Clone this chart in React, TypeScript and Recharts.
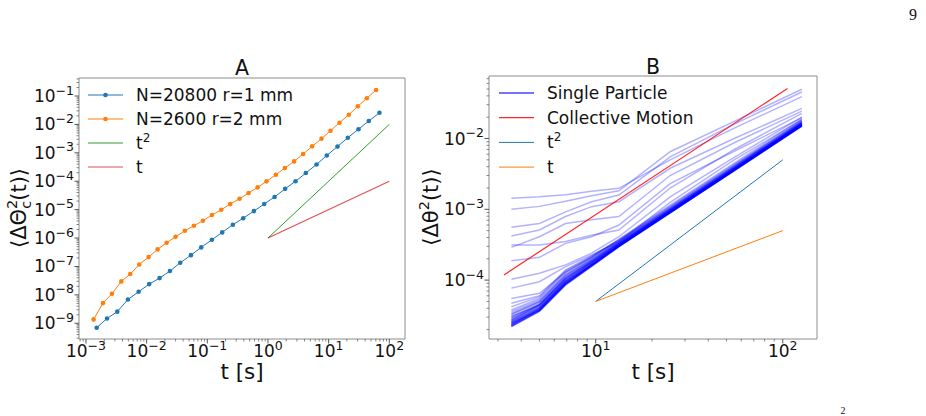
import { LineChart, Line, XAxis, YAxis, Legend, ReferenceArea } from "recharts";

const FONT = "'DejaVu Sans', 'Noto Sans', sans-serif";

// ---- panel A: collective rotation of the whole pack ----
const timeSmallGrains = [
  0.0015, 0.00222, 0.00328, 0.00492, 0.00738, 0.01104, 0.01637, 0.0242, 0.0358, 0.0537, 0.0794, 0.119,
  0.176, 0.264, 0.391, 0.586, 0.867, 1.285, 1.92, 2.85, 4.21, 6.32, 9.33, 14.0, 20.7, 31.1, 45.9, 68.9,
];
const msdSmallGrains = [
  6.97e-10, 1.48e-9, 2.57e-9, 6.9e-9, 1.29e-8, 2.4e-8, 3.9e-8, 6.9e-8, 1.35e-7, 2.5e-7, 4.7e-7, 8.7e-7,
  1.58e-6, 2.95e-6, 5.0e-6, 8.9e-6, 1.58e-5, 2.8e-5, 5.4e-5, 1.0e-4, 1.95e-4, 3.9e-4, 8.1e-4, 1.66e-3,
  3.4e-3, 6.8e-3, 1.32e-2, 2.57e-2,
];
const timeLargeGrains = [
  0.001337, 0.001905, 0.00268, 0.00382, 0.00537, 0.00756, 0.01077, 0.01517, 0.02134, 0.03, 0.0427, 0.0601,
  0.0847, 0.119, 0.17, 0.239, 0.34, 0.479, 0.674, 0.947, 1.349, 1.897, 2.7, 3.8, 5.35, 7.63, 10.74, 15.1,
  21.5, 30.3, 42.6, 60.7,
];
const msdLargeGrains = [
  1.37e-9, 5.14e-9, 1.1e-8, 2.98e-8, 5.4e-8, 1.18e-7, 2.14e-7, 3.99e-7, 6.85e-7, 1.11e-6, 1.81e-6, 2.72e-6,
  4.07e-6, 6.45e-6, 9.95e-6, 1.57e-5, 2.43e-5, 3.85e-5, 6.08e-5, 9.9e-5, 1.7e-4, 2.92e-4, 5.0e-4, 9.1e-4,
  1.69e-3, 3.15e-3, 6.0e-3, 1.15e-2, 2.2e-2, 4.33e-2, 8.3e-2, 0.163,
];
const guideTimeA = [1, 100];
const guideSquareA = [1e-6, 1e-2];
const guideLinearA = [1e-6, 1e-4];

// ---- panel B: single particles vs. the collective ----
const trackTime = [3.54, 5, 6.9, 9.5, 13.3, 25, 55, 126.5];
// particles that wander off on their own
const scatteredTracks = [
  [1.43e-3, 1.5e-3, 1.6e-3, 1.8e-3, 1.98e-3, 5.0e-3, 1.4e-2, 3.9e-2],
  [1.0e-3, 1.1e-3, 1.3e-3, 1.55e-3, 1.83e-3, 6.5e-3, 1.75e-2, 4.96e-2],
  [5.6e-4, 6.3e-4, 9.2e-4, 1.28e-3, 1.59e-3, 5.5e-3, 1.6e-2, 4.54e-2],
  [4.2e-4, 5.1e-4, 7.9e-4, 1.09e-3, 1.28e-3, 3.8e-3, 1.0e-2, 2.67e-2],
  [3.13e-4, 3.13e-4, 3.5e-4, 4.3e-4, 5.1e-4, 2.0e-3, 7.0e-3, 2.27e-2],
  [2.9e-4, 4.1e-4, 6.3e-4, 7.1e-4, 7.9e-4, 3.0e-3, 8.7e-3, 2.44e-2],
  [1.88e-4, 2.1e-4, 3.3e-4, 4.1e-4, 6.0e-4, 2.3e-3, 6.6e-3, 1.97e-2],
  [1.03e-4, 1.25e-4, 1.64e-4, 2.4e-4, 4.1e-4, 1.5e-3, 5.4e-3, 2.0e-2],
  [7.7e-5, 9.5e-5, 1.55e-4, 2.26e-4, 3.5e-4, 1.25e-3, 5.0e-3, 1.85e-2],
  [5.5e-5, 6.5e-5, 1.3e-4, 2.1e-4, 3.8e-4, 1.15e-3, 4.5e-3, 1.9e-2],
  [4.7e-5, 6.0e-5, 1.4e-4, 2.2e-4, 3.7e-4, 1.1e-3, 4.3e-3, 1.8e-2],
  [4.2e-5, 5.8e-5, 1.35e-4, 2.15e-4, 3.65e-4, 1.08e-3, 4.2e-3, 1.78e-2],
];
// particles that move with the pack
const bundleTracks = [
  [2.2e-5, 3.6e-5, 8.5e-5, 1.56e-4, 2.96e-4, 8.9e-4, 3.5e-3, 1.5e-2],
  [2.2e-5, 3.65e-5, 8.6e-5, 1.57e-4, 2.97e-4, 8.9e-4, 3.51e-3, 1.5e-2],
  [2.24e-5, 3.7e-5, 8.8e-5, 1.59e-4, 2.99e-4, 8.97e-4, 3.54e-3, 1.51e-2],
  [2.26e-5, 3.68e-5, 8.7e-5, 1.58e-4, 2.98e-4, 8.95e-4, 3.53e-3, 1.51e-2],
  [2.32e-5, 3.75e-5, 8.85e-5, 1.61e-4, 3.01e-4, 9.0e-4, 3.56e-3, 1.52e-2],
  [2.35e-5, 3.8e-5, 8.9e-5, 1.62e-4, 3.02e-4, 9.05e-4, 3.57e-3, 1.525e-2],
  [2.38e-5, 3.83e-5, 9.0e-5, 1.63e-4, 3.04e-4, 9.1e-4, 3.58e-3, 1.53e-2],
  [2.42e-5, 3.88e-5, 9.1e-5, 1.64e-4, 3.06e-4, 9.15e-4, 3.6e-3, 1.54e-2],
  [2.45e-5, 3.92e-5, 9.2e-5, 1.66e-4, 3.08e-4, 9.2e-4, 3.61e-3, 1.55e-2],
  [2.52e-5, 4.0e-5, 9.4e-5, 1.68e-4, 3.1e-4, 9.3e-4, 3.64e-3, 1.56e-2],
  [2.56e-5, 4.05e-5, 9.5e-5, 1.7e-4, 3.12e-4, 9.3e-4, 3.66e-3, 1.565e-2],
  [2.59e-5, 4.08e-5, 9.6e-5, 1.71e-4, 3.13e-4, 9.35e-4, 3.67e-3, 1.57e-2],
  [2.66e-5, 4.17e-5, 9.8e-5, 1.73e-4, 3.17e-4, 9.4e-4, 3.7e-3, 1.58e-2],
  [2.74e-5, 4.27e-5, 1.01e-4, 1.76e-4, 3.2e-4, 9.5e-4, 3.73e-3, 1.6e-2],
  [2.8e-5, 4.35e-5, 1.03e-4, 1.79e-4, 3.23e-4, 9.6e-4, 3.76e-3, 1.61e-2],
  [2.89e-5, 4.45e-5, 1.05e-4, 1.81e-4, 3.26e-4, 9.66e-4, 3.79e-3, 1.62e-2],
  [2.95e-5, 4.55e-5, 1.07e-4, 1.84e-4, 3.3e-4, 9.75e-4, 3.82e-3, 1.63e-2],
  [3.05e-5, 4.63e-5, 1.1e-4, 1.86e-4, 3.33e-4, 9.8e-4, 3.85e-3, 1.64e-2],
  [3.23e-5, 4.84e-5, 1.14e-4, 1.92e-4, 3.39e-4, 9.98e-4, 3.91e-3, 1.67e-2],
  [3.3e-5, 4.95e-5, 1.17e-4, 1.95e-4, 3.42e-4, 1.01e-3, 3.94e-3, 1.68e-2],
  [3.4e-5, 5.05e-5, 1.19e-4, 1.98e-4, 3.46e-4, 1.02e-3, 3.97e-3, 1.7e-2],
  [3.6e-5, 5.27e-5, 1.24e-4, 2.04e-4, 3.52e-4, 1.03e-3, 4.04e-3, 1.72e-2],
  [3.8e-5, 5.5e-5, 1.3e-4, 2.1e-4, 3.6e-4, 1.05e-3, 4.1e-3, 1.75e-2],
  [2.3e-5, 3.9e-5, 9.5e-5, 1.6e-4, 3.0e-4, 9.0e-4, 3.55e-3, 1.52e-2],
  [2.5e-5, 3.7e-5, 8.8e-5, 1.65e-4, 3.05e-4, 9.2e-4, 3.6e-3, 1.54e-2],
  [2.7e-5, 4.5e-5, 1.08e-4, 1.85e-4, 3.3e-4, 9.7e-4, 3.8e-3, 1.63e-2],
  [3.1e-5, 4.4e-5, 1.0e-4, 1.78e-4, 3.2e-4, 9.5e-4, 3.75e-3, 1.61e-2],
];
const collectiveTime = [3.23, 106];
const collectiveMsd = [1.18e-4, 5.1e-2];
const guideTimeB = [10, 100];
const guideSquareB = [5e-5, 5e-3];
const guideLinearB = [5e-5, 5e-4];

const domainAx: [number, number] = [Math.pow(10, -3.115), Math.pow(10, 2.259)];
const domainAy: [number, number] = [Math.pow(10, -9.553), Math.pow(10, -0.366)];
const domainBx: [number, number] = [Math.pow(10, 0.4294), Math.pow(10, 2.183)];
const domainBy: [number, number] = [Math.pow(10, -4.832), Math.pow(10, -1.117)];

type Pt = { t: number; v: number };
const toRows = (t: number[], v: number[]): Pt[] => t.map((x, i) => ({ t: x, v: v[i] }));

// every 1..9 x 10^k that falls inside the domain
function logTicks([lo, hi]: [number, number]) {
  const out: number[] = [];
  for (let e = Math.floor(Math.log10(lo)); e <= Math.ceil(Math.log10(hi)); e++) {
    for (let m = 1; m <= 9; m++) {
      const v = m * Math.pow(10, e);
      if (v >= lo && v <= hi) out.push(v);
    }
  }
  return out;
}
const isMajor = (v: number) => Math.abs(Math.log10(v) - Math.round(Math.log10(v))) < 1e-9;
const expText = (v: number) => {
  const e = Math.round(Math.log10(v));
  return e < 0 ? "\u2212" + Math.abs(e) : String(e);
};

function XTick({ x, y, payload }: any) {
  const v = payload.value;
  const major = isMajor(v);
  return (
    <g>
      <line x1={x} x2={x} y1={y} y2={y + (major ? 4.5 : 2.5)} stroke="#555" strokeWidth={major ? 1 : 0.7} />
      {major && (
        <text x={x} y={y + 18} textAnchor="middle" fontSize={17} fontFamily={FONT} fill="#111">
          10<tspan dy={-7.5} fontSize={12.5}>{expText(v)}</tspan>
        </text>
      )}
    </g>
  );
}

function YTick({ x, y, payload }: any) {
  const v = payload.value;
  const major = isMajor(v);
  return (
    <g>
      <line x1={x - (major ? 4.5 : 2.5)} x2={x} y1={y} y2={y} stroke="#555" strokeWidth={major ? 1 : 0.7} />
      {major && (
        <text x={x - 5} y={y + 6} textAnchor="end" fontSize={17} fontFamily={FONT} fill="#111">
          10<tspan dy={-7.5} fontSize={12.5}>{expText(v)}</tspan>
        </text>
      )}
    </g>
  );
}

type Entry = { name: string; sup?: string; color: string; width: number; opacity?: number; marker?: boolean };
const legendA: Entry[] = [
  { name: "N=20800 r=1 mm", color: "#1f77b4", width: 1, marker: true },
  { name: "N=2600 r=2 mm", color: "#ff7f0e", width: 1, marker: true },
  { name: "t", sup: "2", color: "#2ca02c", width: 1 },
  { name: "t", color: "#d62728", width: 1.2, opacity: 0.8 },
];
const legendB: Entry[] = [
  { name: "Single Particle", color: "#0000ff", width: 2, opacity: 0.55 },
  { name: "Collective Motion", color: "#ff0000", width: 1.2, opacity: 0.85 },
  { name: "t", sup: "2", color: "#1f77b4", width: 1 },
  { name: "t", color: "#ff7f0e", width: 1 },
];

function LegendBox({ entries, gap }: { entries: Entry[]; gap: number }) {
  return (
    <svg width={300} height={110} style={{ display: "block" }}>
      {entries.map((e, i) => {
        const cy = 12 + i * gap;
        return (
          <g key={i}>
            <line x1={2} x2={37} y1={cy} y2={cy} stroke={e.color} strokeWidth={e.width} strokeOpacity={e.opacity ?? 1} />
            {e.marker && <circle cx={19.5} cy={cy} r={2.3} fill={e.color} />}
            <text x={50} y={cy + 6} fontSize={17} fontFamily={FONT} fill="#111">
              {e.name}
              {e.sup && <tspan dy={-7} fontSize={12}>{e.sup}</tspan>}
            </text>
          </g>
        );
      })}
    </svg>
  );
}

const frame = { fill: "none", stroke: "#8c8c8c", strokeWidth: 1 };

function PanelA() {
  return (
    <LineChart width={420} height={416} margin={{ top: 78, right: 15, bottom: 0, left: 0 }}>
      <XAxis
        dataKey="t"
        type="number"
        scale="log"
        domain={domainAx}
        allowDataOverflow
        ticks={logTicks(domainAx)}
        interval={0}
        height={77}
        tickSize={0}
        tickMargin={0}
        axisLine={false}
        tickLine={false}
        tick={<XTick />}
      />
      <YAxis
        dataKey="v"
        type="number"
        scale="log"
        domain={domainAy}
        allowDataOverflow
        ticks={logTicks(domainAy)}
        interval={0}
        width={79}
        tickSize={0}
        tickMargin={0}
        axisLine={false}
        tickLine={false}
        tick={<YTick />}
      />
      <ReferenceArea x1={domainAx[0]} x2={domainAx[1]} y1={domainAy[0]} y2={domainAy[1]} {...frame} />
      <Line data={toRows(timeSmallGrains, msdSmallGrains)} dataKey="v" stroke="#1f77b4" strokeWidth={1}
        dot={{ r: 2.3, fill: "#1f77b4", stroke: "none" }} activeDot={false} isAnimationActive={false} />
      <Line data={toRows(timeLargeGrains, msdLargeGrains)} dataKey="v" stroke="#ff7f0e" strokeWidth={1}
        dot={{ r: 2.3, fill: "#ff7f0e", stroke: "none" }} activeDot={false} isAnimationActive={false} />
      <Line data={toRows(guideTimeA, guideSquareA)} dataKey="v" stroke="#2ca02c" strokeWidth={1}
        dot={false} activeDot={false} isAnimationActive={false} />
      <Line data={toRows(guideTimeA, guideLinearA)} dataKey="v" stroke="#d62728" strokeOpacity={0.8} strokeWidth={1.2}
        dot={false} activeDot={false} isAnimationActive={false} />
      <Legend layout="vertical" align="center" verticalAlign="middle"
        wrapperStyle={{ left: 86, top: 83, width: 300, height: 110 }}
        content={() => <LegendBox entries={legendA} gap={24} />} />
    </LineChart>
  );
}

function PanelB() {
  return (
    <LineChart width={420} height={416} margin={{ top: 76, right: 23, bottom: 0, left: 0 }}>
      <XAxis
        dataKey="t"
        type="number"
        scale="log"
        domain={domainBx}
        allowDataOverflow
        ticks={logTicks(domainBx)}
        interval={0}
        height={77}
        tickSize={0}
        tickMargin={0}
        axisLine={false}
        tickLine={false}
        tick={<XTick />}
      />
      <YAxis
        dataKey="v"
        type="number"
        scale="log"
        domain={domainBy}
        allowDataOverflow
        ticks={logTicks(domainBy)}
        interval={0}
        width={69}
        tickSize={0}
        tickMargin={0}
        axisLine={false}
        tickLine={false}
        tick={<YTick />}
      />
      <ReferenceArea x1={domainBx[0]} x2={domainBx[1]} y1={domainBy[0]} y2={domainBy[1]} {...frame} />
      {[...scatteredTracks, ...bundleTracks].map((track, i) => (
        <Line key={i} data={toRows(trackTime, track)} dataKey="v" stroke="#0000ff" strokeOpacity={0.3}
          strokeWidth={1.5} dot={false} activeDot={false} isAnimationActive={false} />
      ))}
      <Line data={toRows(collectiveTime, collectiveMsd)} dataKey="v" stroke="#ff0000" strokeOpacity={0.85}
        strokeWidth={1.2} dot={false} activeDot={false} isAnimationActive={false} />
      <Line data={toRows(guideTimeB, guideSquareB)} dataKey="v" stroke="#1f77b4" strokeWidth={1}
        dot={false} activeDot={false} isAnimationActive={false} />
      <Line data={toRows(guideTimeB, guideLinearB)} dataKey="v" stroke="#ff7f0e" strokeWidth={1}
        dot={false} activeDot={false} isAnimationActive={false} />
      <Legend layout="vertical" align="center" verticalAlign="middle"
        wrapperStyle={{ left: 77, top: 80.7, width: 300, height: 110 }}
        content={() => <LegendBox entries={legendB} gap={24.7} />} />
    </LineChart>
  );
}

export default function App() {
  return (
    <div style={{ position: "absolute", left: 0, top: 0, width: 926, height: 416, background: "#fff", overflow: "hidden" }}>
      <div style={{ position: "absolute", left: 0, top: 0 }}>
        <PanelA />
      </div>
      <div style={{ position: "absolute", left: 420, top: 0 }}>
        <PanelB />
      </div>
      <svg width={926} height={416} style={{ position: "absolute", left: 0, top: 0, pointerEvents: "none" }}
        fontFamily={FONT} fill="#111">
        <text x={242} y={75} textAnchor="middle" fontSize={20.5}>A</text>
        <text x={653} y={73.5} textAnchor="middle" fontSize={20.5}>B</text>
        <text x={242} y={378.5} textAnchor="middle" fontSize={21.5}>t [s]</text>
        <text x={653} y={379} textAnchor="middle" fontSize={21.5}>t [s]</text>
        <text transform="translate(26,208) rotate(-90)" textAnchor="middle" fontSize={21}>
          {"\u27e8\u0394\u0398"}
          <tspan dy={-9} fontSize={14.5}>2</tspan>
          <tspan dx={-9} dy={14} fontSize={14.5}>c</tspan>
          <tspan dy={-5}>{"(t)\u27e9"}</tspan>
        </text>
        <text transform="translate(438,207) rotate(-90)" textAnchor="middle" fontSize={21}>
          {"\u27e8\u0394\u03b8"}
          <tspan dy={-9} fontSize={14.5}>2</tspan>
          <tspan dy={9}>{"(t)\u27e9"}</tspan>
        </text>
        <text x={913} y={20} textAnchor="middle" fontSize={16} fontFamily="'Liberation Serif', serif">9</text>
        <text x={843} y={414} textAnchor="middle" fontSize={10} fontFamily="'Liberation Serif', serif">2</text>
      </svg>
    </div>
  );
}
